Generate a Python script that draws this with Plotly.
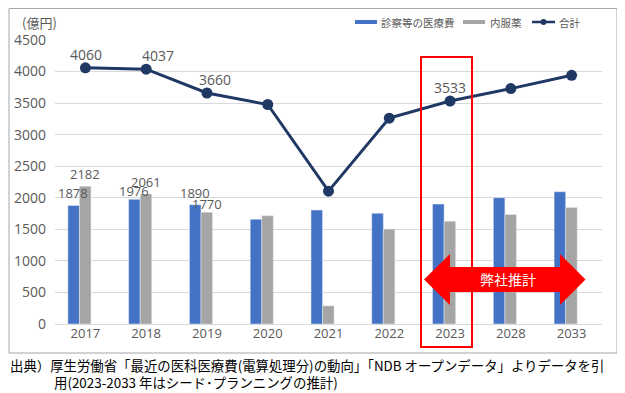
import plotly.graph_objects as go

categories = ["2017", "2018", "2019", "2020", "2021", "2022", "2023", "2028", "2033"]
medical = [1878, 1976, 1890, 1660, 1805, 1755, 1900, 2000, 2095]
oral = [2182, 2061, 1770, 1715, 288, 1505, 1630, 1735, 1845]
total = [4060, 4037, 3660, 3478, 2105, 3262, 3533, 3730, 3940]
medical_labels = ["1878", "1976", "1890", "", "", "", "", "", ""]
oral_labels = ["2182", "2061", "1770", "", "", "", "", "", ""]
total_labels = ["4060", "4037", "3660", "", "", "", "3533", "", ""]
series_names = ["診察等の医療費", "内服薬", "合計"]
y_ticks = [0, 500, 1000, 1500, 2000, 2500, 3000, 3500, 4000, 4500]

# label nudges (pixels), as in the original
total_label_dx = [1, 12, 8, 0, 0, 0, 0, 0, 0]
oral_label_dy = [0, 0, -4, 0, 0, 0, 0, 0, 0]
medical_label_dy = [0, -4, 0, 0, 0, 0, 0, 0, 0]

BLUE = "#4472C4"
GRAY = "#A5A5A5"
NAVY = "#203864"
TXT = "#595959"
FONT = "Open Sans, Noto Sans CJK JP, sans-serif"
JP = "Noto Sans CJK JP, sans-serif"

BAR_W = 0.19          # bar width in category units
BLUE_OFF = -0.288     # bars sit slightly left of the category centre in the original
GRAY_OFF = BLUE_OFF + BAR_W

fig = go.Figure()
fig.add_trace(go.Bar(x=categories, y=medical, name=series_names[0], marker_color=BLUE,
                     width=BAR_W, offset=BLUE_OFF, showlegend=False))
fig.add_trace(go.Bar(x=categories, y=oral, name=series_names[1], marker_color=GRAY,
                     width=BAR_W, offset=GRAY_OFF, showlegend=False))
fig.add_trace(go.Scatter(x=categories, y=total, name=series_names[2], mode="lines+markers",
                         line=dict(color=NAVY, width=3), marker=dict(size=11, color=NAVY),
                         showlegend=False))

# page body has an 8px margin: work in page pixels, convert to figure pixels
OFF = 8
FW, FH = 625 - OFF, 393 - OFF
L, R, T, B = 55, 602, 40, 324          # plot area in page pixels
W, H = R - L, B - T


def px(x):
    return (x - L) / W


def py(y):
    return (B - y) / H


shapes = []
# outer frame
shapes.append(dict(type="rect", xref="paper", yref="paper",
                   x0=px(9), x1=px(617), y0=py(353), y1=py(OFF + 0.5),
                   line=dict(color="#A6A6A6", width=1), layer="below"))
# red highlight box
shapes.append(dict(type="rect", xref="paper", yref="paper",
                   x0=px(421), x1=px(472), y0=py(347), y1=py(57),
                   line=dict(color="#FF0000", width=2)))
# double arrow
pts = [(424, 279.5), (450, 254), (450, 267), (560, 267), (560, 254), (585.5, 279.5),
       (560, 305), (560, 292), (450, 292), (450, 305)]
path = "M " + " L ".join(f"{px(a):.5f},{py(b):.5f}" for a, b in pts) + " Z"
shapes.append(dict(type="path", xref="paper", yref="paper", path=path,
                   fillcolor="#FF0000", line=dict(color="#FF0000", width=0)))

# legend (drawn like the original: short thick swatches)
LEG_Y = 22
shapes.append(dict(type="rect", xref="paper", yref="paper", x0=px(355), x1=px(377),
                   y0=py(LEG_Y + 2), y1=py(LEG_Y - 2), fillcolor=BLUE, line=dict(width=0)))
shapes.append(dict(type="rect", xref="paper", yref="paper", x0=px(463), x1=px(485),
                   y0=py(LEG_Y + 2), y1=py(LEG_Y - 2), fillcolor=GRAY, line=dict(width=0)))
shapes.append(dict(type="line", xref="paper", yref="paper", x0=px(532), x1=px(555),
                   y0=py(LEG_Y), y1=py(LEG_Y), line=dict(color=NAVY, width=2.5)))
shapes.append(dict(type="circle", xref="paper", yref="paper", x0=px(540.5), x1=px(546.5),
                   y0=py(LEG_Y + 3), y1=py(LEG_Y - 3), fillcolor=NAVY, line=dict(width=0)))

annotations = []
for i, c in enumerate(categories):
    if medical_labels[i]:
        annotations.append(dict(x=i, y=medical[i], xref="x", yref="y", text=medical_labels[i],
                                showarrow=False, xanchor="center", yanchor="bottom",
                                xshift=-12, yshift=1 + medical_label_dy[i],
                                font=dict(family=FONT, size=13, color=TXT)))
    if oral_labels[i]:
        annotations.append(dict(x=i, y=oral[i], xref="x", yref="y", text=oral_labels[i],
                                showarrow=False, xanchor="center", yanchor="bottom",
                                xshift=0, yshift=1 + oral_label_dy[i],
                                font=dict(family=FONT, size=13, color=TXT)))
    if total_labels[i]:
        annotations.append(dict(x=i, y=total[i], xref="x", yref="y", text=total_labels[i],
                                showarrow=False, xanchor="center", yanchor="bottom",
                                xshift=total_label_dx[i], yshift=2,
                                font=dict(family=FONT, size=14, color=TXT)))

legend_x = [379, 488, 557]
for name, lx in zip(series_names, legend_x):
    annotations.append(dict(text=name, xref="paper", yref="paper", x=px(lx), y=py(LEG_Y),
                            xanchor="left", yanchor="middle", showarrow=False,
                            font=dict(family=JP, size=10.5, color=TXT)))

annotations += [
    dict(text="(億円)", xref="paper", yref="paper", x=px(20), y=py(22),
         xanchor="left", yanchor="middle", showarrow=False,
         font=dict(family=JP, size=13, color=TXT)),
    dict(text="弊社推計", xref="paper", yref="paper", x=px(508), y=py(279),
         xanchor="center", yanchor="middle", showarrow=False,
         font=dict(family=JP, size=14, color="white")),
    dict(text="出典）厚生労働省「最近の医科医療費(電算処理分)の動向」「NDB オープンデータ」よりデータを引",
         xref="paper", yref="paper", x=px(8), y=py(365),
         xanchor="left", yanchor="middle", showarrow=False,
         font=dict(family=JP, size=13.4, color="#000000")),
    dict(text="用(2023-2033 年はシード･プランニングの推計)",
         xref="paper", yref="paper", x=px(52), y=py(382),
         xanchor="left", yanchor="middle", showarrow=False,
         font=dict(family=JP, size=13.4, color="#000000")),
]

fig.update_layout(
    width=FW, height=FH,
    margin=dict(l=L - OFF, r=FW - (R - OFF), t=T - OFF, b=FH - (B - OFF), autoexpand=False),
    paper_bgcolor="white", plot_bgcolor="white",
    barmode="overlay",
    font=dict(family=FONT, color=TXT),
    showlegend=False,
    shapes=shapes, annotations=annotations,
)
fig.update_xaxes(type="category", showgrid=False, showline=False, ticks="", automargin=False,
                 range=[-0.5, len(categories) - 0.5],
                 tickfont=dict(size=13, color=TXT, family=FONT))
fig.update_yaxes(range=[0, 4500], tickvals=y_ticks, showgrid=True, gridcolor="#D9D9D9",
                 gridwidth=1, zeroline=True, zerolinecolor="#D9D9D9", zerolinewidth=1,
                 showline=False, ticks="", ticklabelstandoff=8, automargin=False,
                 tickfont=dict(size=14, color=TXT, family=FONT))

fig.write_html("out.html")
